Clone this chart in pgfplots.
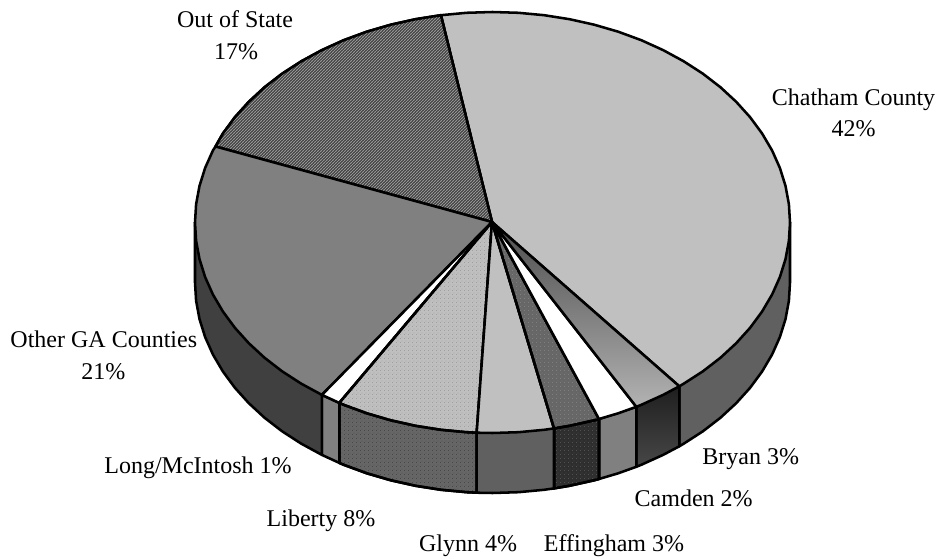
\documentclass[border=0pt]{standalone}
\usepackage{fontspec}
\setmainfont{Liberation Serif}
\usepackage{pgfplots}
\pgfplotsset{compat=1.18}
\usetikzlibrary{patterns}

\pgfdeclarepatternformonly{finehatch}{\pgfpoint{-1pt}{-1pt}}{\pgfpoint{3.25pt}{3.25pt}}{\pgfpoint{2.25pt}{2.25pt}}{
  \pgfsetlinewidth{0.75pt}
  \pgfpathmoveto{\pgfqpoint{-0.5pt}{-0.5pt}}
  \pgfpathlineto{\pgfqpoint{2.75pt}{2.75pt}}
  \pgfusepath{stroke}}
\pgfdeclarepatternformonly{speckle}{\pgfpoint{0pt}{0pt}}{\pgfpoint{3pt}{3pt}}{\pgfpoint{3pt}{3pt}}{
  \pgfpathrectangle{\pgfqpoint{0pt}{0pt}}{\pgfqpoint{0.75pt}{0.75pt}}
  \pgfpathrectangle{\pgfqpoint{1.5pt}{1.5pt}}{\pgfqpoint{0.75pt}{0.75pt}}
  \pgfusepath{fill}}

\definecolor{chatham}{HTML}{C0C0C0}
\definecolor{sideA}{HTML}{606060}
\definecolor{sideB}{HTML}{404040}
\definecolor{midgray}{HTML}{808080}

\tikzset{
  slice/.style={draw=black, line width=1.9pt, line join=round, mark=none},
  lab/.style={anchor=base, inner sep=0pt, font=\fontsize{18}{18}\selectfont}
}

\begin{document}
\begin{tikzpicture}
\begin{axis}[
  scale only axis, width=703.5pt, height=419.25pt,
  xmin=0, xmax=938, ymin=0, ymax=559, y dir=reverse,
  ticks=none, axis line style={draw=none}, clip=false
]
% side walls, pixel coordinates of the reference
\addplot[slice, fill=sideA] coordinates {(679.3,386.3) (679.3,446.3) (683.7,443.7) (702.9,431.3) (720.4,417.8) (736.2,403.2) (750.1,387.8) (762.1,371.5) (772.1,354.5) (779.9,337) (785.5,319.1) (788.9,300.8) (790,282.5) (790,222.5)} --cycle;
\addplot[slice, top color=black!88, bottom color=black!72] coordinates {(636.3,406.8) (636.3,466.8) (641.3,464.8) (663.1,454.9) (679.3,446.3) (679.3,386.3)} --cycle;
\addplot[slice, fill=midgray] coordinates {(599,419) (599,479) (618.2,473.3) (636.3,466.8) (636.3,406.8)} --cycle;
\addplot[slice, fill=black!82, postaction={pattern=speckle, pattern color=black!68}] coordinates {(554,428.4) (554,488.4) (569.5,485.8) (594.2,480.3) (599,479) (599,419)} --cycle;
\addplot[slice, fill=sideA] coordinates {(476.7,432.7) (476.7,492.7) (492.5,493) (518.4,492.2) (544.1,489.8) (554,488.4) (554,428.4)} --cycle;
\addplot[slice, fill=black!60, postaction={pattern=speckle, pattern color=black!72}] coordinates {(339.3,402.9) (339.3,462.9) (343.7,464.8) (366.8,473.3) (390.8,480.3) (415.5,485.8) (440.9,489.8) (466.6,492.2) (476.7,492.7) (476.7,432.7)} --cycle;
\addplot[slice, fill=midgray] coordinates {(321.9,394.9) (321.9,454.9) (339.3,462.9) (339.3,402.9)} --cycle;
\addplot[slice, fill=sideB] coordinates {(195,222.5) (195,282.5) (196.1,300.8) (199.5,319.1) (205.1,337) (212.9,354.5) (222.9,371.5) (234.9,387.8) (248.8,403.2) (264.6,417.8) (282.1,431.3) (301.3,443.7) (321.9,454.9) (321.9,394.9)} --cycle;

% top faces
% Chatham County 42
\addplot[slice, fill=chatham] coordinates {(492,222) (679.3,386.3) (683.7,383.7) (702.9,371.3) (720.4,357.8) (736.2,343.2) (750.1,327.8) (762.1,311.5) (772.1,294.5) (779.9,277) (785.5,259.1) (788.9,240.8) (790,222.5) (788.9,204.2) (785.5,185.9) (779.9,168) (772.1,150.5) (762.1,133.5) (750.1,117.2) (736.2,101.8) (720.4,87.2) (702.9,73.7) (683.7,61.3) (663.1,50.1) (641.3,40.2) (618.2,31.7) (594.2,24.7) (569.5,19.2) (544.1,15.2) (518.4,12.8) (492.5,12) (466.6,12.8) (440.9,15.2)} --cycle;
% Out of State 17
\addplot[slice, fill=black!80, postaction={pattern=finehatch, pattern color=black!42}] coordinates {(492,222) (440.9,15.2) (415.5,19.2) (390.8,24.7) (366.8,31.7) (343.7,40.2) (321.9,50.1) (301.3,61.3) (282.1,73.7) (264.6,87.2) (248.8,101.8) (234.9,117.2) (222.9,133.5) (215.5,146.5)} --cycle;
% Other GA Counties 21
\addplot[slice, fill=midgray] coordinates {(492,222) (215.5,146.5) (212.9,150.5) (205.1,168) (199.5,185.9) (196.1,204.2) (195,222.5) (196.1,240.8) (199.5,259.1) (205.1,277) (212.9,294.5) (222.9,311.5) (234.9,327.8) (248.8,343.2) (264.6,357.8) (282.1,371.3) (301.3,383.7) (321.9,394.9)} --cycle;
% Long/McIntosh 1
\addplot[slice, fill=white] coordinates {(492,222) (321.9,394.9) (339.3,402.9)} --cycle;
% Liberty 8
\addplot[slice, fill=black!25, postaction={pattern=speckle, pattern color=black!38}] coordinates {(492,222) (339.3,402.9) (343.7,404.8) (366.8,413.3) (390.8,420.3) (415.5,425.8) (440.9,429.8) (466.6,432.2) (476.7,432.7)} --cycle;
% Glynn 4
\addplot[slice, fill=chatham] coordinates {(492,222) (476.7,432.7) (492.5,433) (518.4,432.2) (544.1,429.8) (554,428.4)} --cycle;
% Effingham 3
\addplot[slice, fill=black!60, postaction={pattern=speckle, pattern color=black!50}] coordinates {(492,222) (554,428.4) (569.5,425.8) (594.2,420.3) (599,419)} --cycle;
% Camden 2
\addplot[slice, fill=white] coordinates {(492,222) (599,419) (618.2,413.3) (636.3,406.8)} --cycle;
% Bryan 3
\addplot[slice, top color=black!70, bottom color=black!30] coordinates {(492,222) (636.3,406.8) (641.3,404.8) (663.1,394.9) (679.3,386.3)} --cycle;

\node[lab] at (axis cs:853.5,106) {Chatham County};
\node[lab] at (axis cs:853.5,136.7) {42\%};
\node[lab] at (axis cs:235,27.3) {Out of State};
\node[lab] at (axis cs:236,59.3) {17\%};
\node[lab] at (axis cs:103.8,347.3) {Other GA Counties};
\node[lab] at (axis cs:103.3,379.3) {21\%};
\node[lab] at (axis cs:198,473.3) {Long/McIntosh 1\%};
\node[lab] at (axis cs:321,526) {Liberty 8\%};
\node[lab] at (axis cs:468,551.7) {Glynn 4\%};
\node[lab] at (axis cs:614,551.7) {Effingham 3\%};
\node[lab] at (axis cs:693.7,506) {Camden 2\%};
\node[lab] at (axis cs:750.8,464) {Bryan 3\%};
\end{axis}
\end{tikzpicture}
\end{document}
